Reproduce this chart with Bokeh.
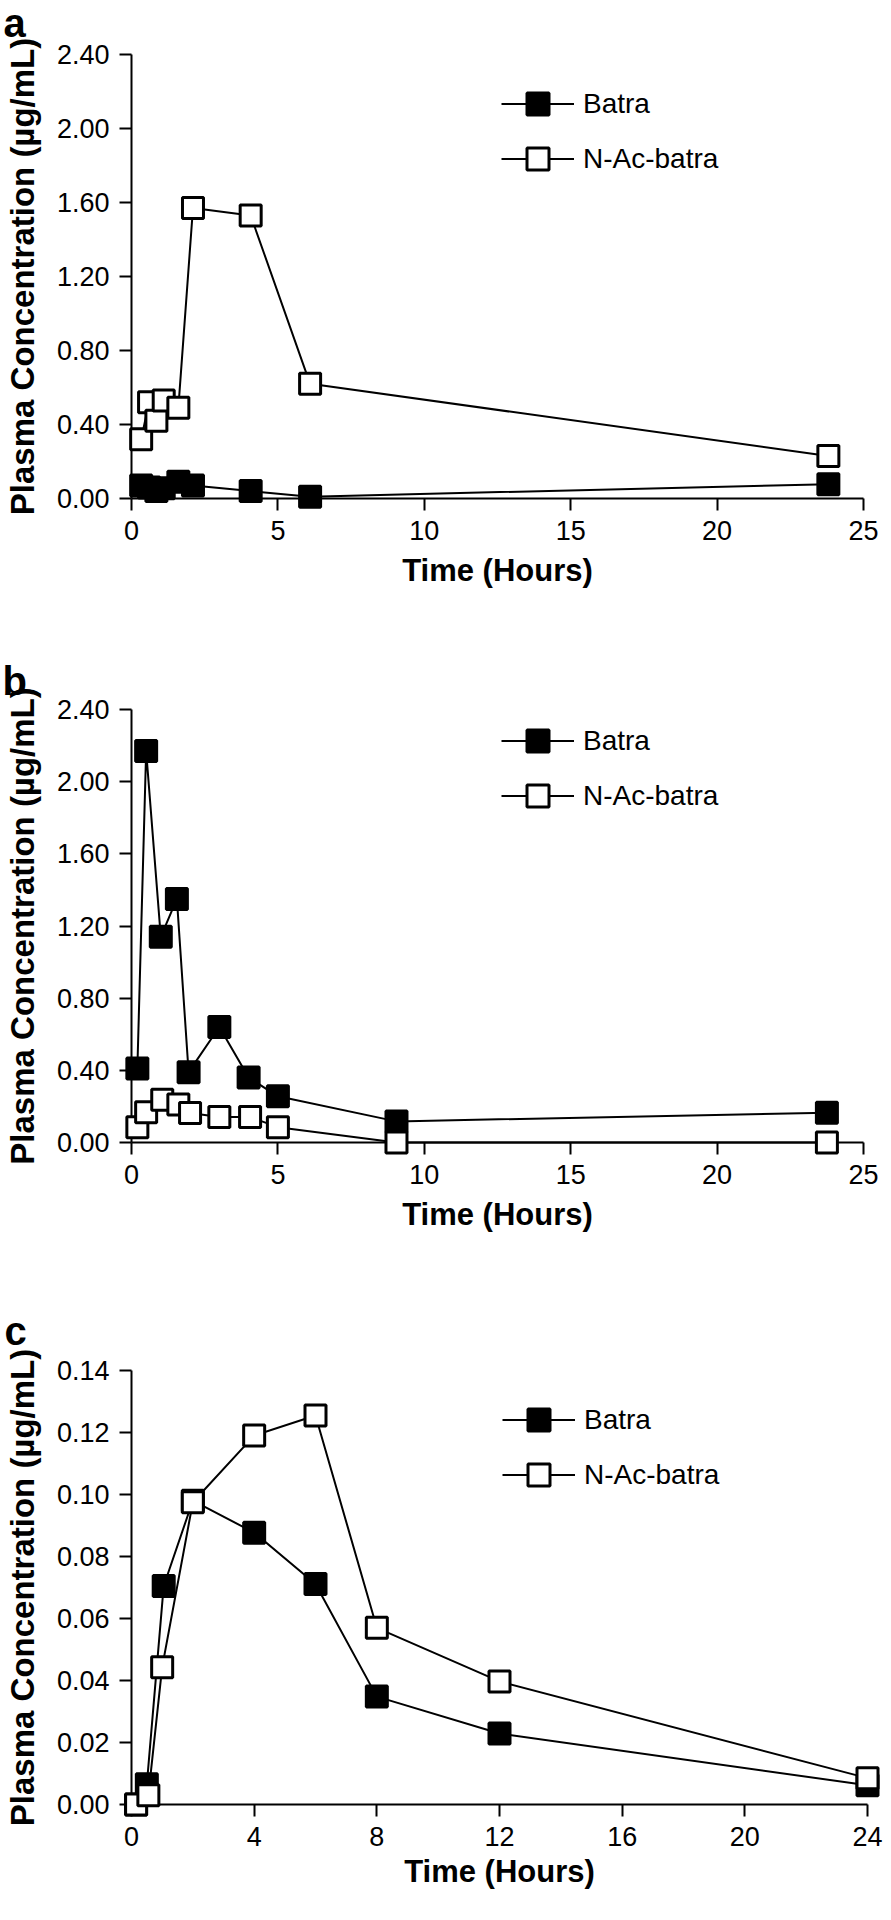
from bokeh.plotting import figure
from bokeh.layouts import column
from bokeh.models import Range1d, Legend, LegendItem, FixedTicker, NumeralTickFormatter
from bokeh.core.properties import value
from bokeh.embed import file_html
from bokeh.resources import INLINE

# ---------------- data ----------------
SERIES = ["Batra", "N-Ac-batra"]

# Panel a
A_T_BATRA = [0.33, 0.6, 0.85, 1.1, 1.6, 2.1, 4.07, 6.1, 23.8]
A_BATRA = [0.07, 0.06, 0.04, 0.055, 0.09, 0.07, 0.04, 0.01, 0.077]
A_T_NAC = [0.33, 0.6, 0.85, 1.1, 1.6, 2.1, 4.07, 6.1, 23.8]
A_NAC = [0.32, 0.52, 0.42, 0.53, 0.49, 1.57, 1.53, 0.62, 0.23]

# Panel b
B_T_BATRA = [0.2, 0.5, 1.0, 1.55, 1.95, 3.0, 4.0, 5.0, 9.05, 23.75]
B_BATRA = [0.41, 2.17, 1.14, 1.35, 0.39, 0.64, 0.36, 0.256, 0.117, 0.165]
B_T_NAC = [0.2, 0.5, 1.05, 1.6, 2.0, 3.0, 4.05, 5.0, 9.05, 23.75]
B_NAC = [0.085, 0.167, 0.237, 0.21, 0.163, 0.141, 0.141, 0.085, 0.0, 0.0]

# Panel c
C_T_BATRA = [0.15, 0.5, 1.05, 2.0, 4.0, 6.0, 8.0, 12.0, 24.0]
C_BATRA = [0.0, 0.0065, 0.0705, 0.098, 0.0877, 0.0711, 0.0348, 0.0229, 0.0062]
C_T_NAC = [0.15, 0.55, 1.0, 2.0, 4.0, 6.0, 8.0, 12.0, 24.0]
C_NAC = [0.0, 0.003, 0.0443, 0.0975, 0.119, 0.1255, 0.057, 0.0397, 0.0085]

X_TICKS_AB = [0, 5, 10, 15, 20, 25]
Y_TICKS_AB = [0.0, 0.4, 0.8, 1.2, 1.6, 2.0, 2.4]
X_TICKS_C = [0, 4, 8, 12, 16, 20, 24]
Y_TICKS_C = [0.0, 0.02, 0.04, 0.06, 0.08, 0.10, 0.12, 0.14]

X_TITLE = "Time (Hours)"
Y_TITLE = "Plasma Concentration (\u00b5g/mL)"
LETTERS = ["a", "b", "c"]

FONT = "Liberation Sans"


def panel(letter, tb, yb, tn, yn, xticks, yticks, fw, fh,
          bl, bt, bb, br, x_std, leg_xy, let_px):
    p = figure(x_range=Range1d(xticks[0], xticks[-1]),
               y_range=Range1d(yticks[0], yticks[-1]),
               frame_width=fw, frame_height=fh,
               min_border_left=bl, min_border_top=bt,
               min_border_bottom=bb, min_border_right=br,
               output_backend="svg", toolbar_location=None)
    p.outline_line_color = None
    p.grid.visible = False
    p.background_fill_color = "white"
    p.border_fill_color = "white"

    for ax in (p.xaxis[0], p.yaxis[0]):
        ax.axis_line_width = 2
        ax.axis_line_color = "black"
        ax.major_tick_line_width = 2
        ax.major_tick_line_color = "black"
        ax.major_tick_out = 12
        ax.major_tick_in = 0
        ax.minor_tick_line_color = None
        ax.major_label_text_font = FONT
        ax.major_label_text_font_size = "27px"
        ax.major_label_text_color = "black"
        ax.major_label_standoff = 10
        ax.axis_label_text_font = FONT
        ax.axis_label_text_font_style = "bold"
        ax.axis_label_text_color = "black"

    xa = p.xaxis[0]
    xa.ticker = FixedTicker(ticks=xticks)
    xa.axis_label = X_TITLE
    xa.axis_label_text_font_size = "31px"
    xa.axis_label_standoff = x_std

    ya = p.yaxis[0]
    ya.ticker = FixedTicker(ticks=yticks)
    ya.formatter = NumeralTickFormatter(format="0.00")
    ya.axis_label = Y_TITLE
    ya.axis_label_text_font_size = "33px"
    ya.axis_label_standoff = 13

    # drawn above the axes so that markers on the axes are not cut by the frame
    lb = p.line(tb, yb, line_color="black", line_width=2, level="annotation")
    ln = p.line(tn, yn, line_color="black", line_width=2, level="annotation")
    sb = p.scatter(tb, yb, marker="square", size=21, fill_color="black",
                   line_color="black", line_width=3, level="annotation")
    sn = p.scatter(tn, yn, marker="square", size=21, fill_color="white",
                   line_color="black", line_width=3, level="annotation")

    legend = Legend(items=[LegendItem(label=SERIES[0], renderers=[lb, sb]),
                           LegendItem(label=SERIES[1], renderers=[ln, sn])],
                    location=leg_xy, glyph_width=73, glyph_height=55,
                    spacing=-3, padding=0, margin=0,
                    border_line_color=None, background_fill_alpha=0,
                    label_text_font=FONT, label_text_font_size="28px",
                    label_text_color="black", label_standoff=9)
    p.add_layout(legend)

    # panel letter, above-left of the axes (pixel offsets converted to data units)
    xspan = xticks[-1] - xticks[0]
    yspan = yticks[-1] - yticks[0]
    lx = xticks[0] + let_px[0] * xspan / fw
    ly = yticks[0] + let_px[1] * yspan / fh
    p.text(x=[lx], y=[ly], text=[letter], text_font=value(FONT),
           text_font_size=value("40px"), text_font_style="bold",
           text_color="black", text_baseline="alphabetic", text_align="left",
           level="annotation")
    return p


pa = panel(LETTERS[0], A_T_BATRA, A_BATRA, A_T_NAC, A_NAC, X_TICKS_AB, Y_TICKS_AB,
           732, 444, 127, 54, 136, 24, 10, (370, 312), (-128, 476))
pb = panel(LETTERS[1], B_T_BATRA, B_BATRA, B_T_NAC, B_NAC, X_TICKS_AB, Y_TICKS_AB,
           732, 433, 127, 75, 162, 24, 10, (370, 319), (-129, 462))
pc = panel(LETTERS[2], C_T_BATRA, C_BATRA, C_T_NAC, C_NAC, X_TICKS_C, Y_TICKS_C,
           736, 434, 125, 66, 90, 22, 5, (371, 302), (-127, 474))

layout = column(pa, pb, pc, spacing=0)
open("out.html", "w").write(file_html(layout, INLINE))
